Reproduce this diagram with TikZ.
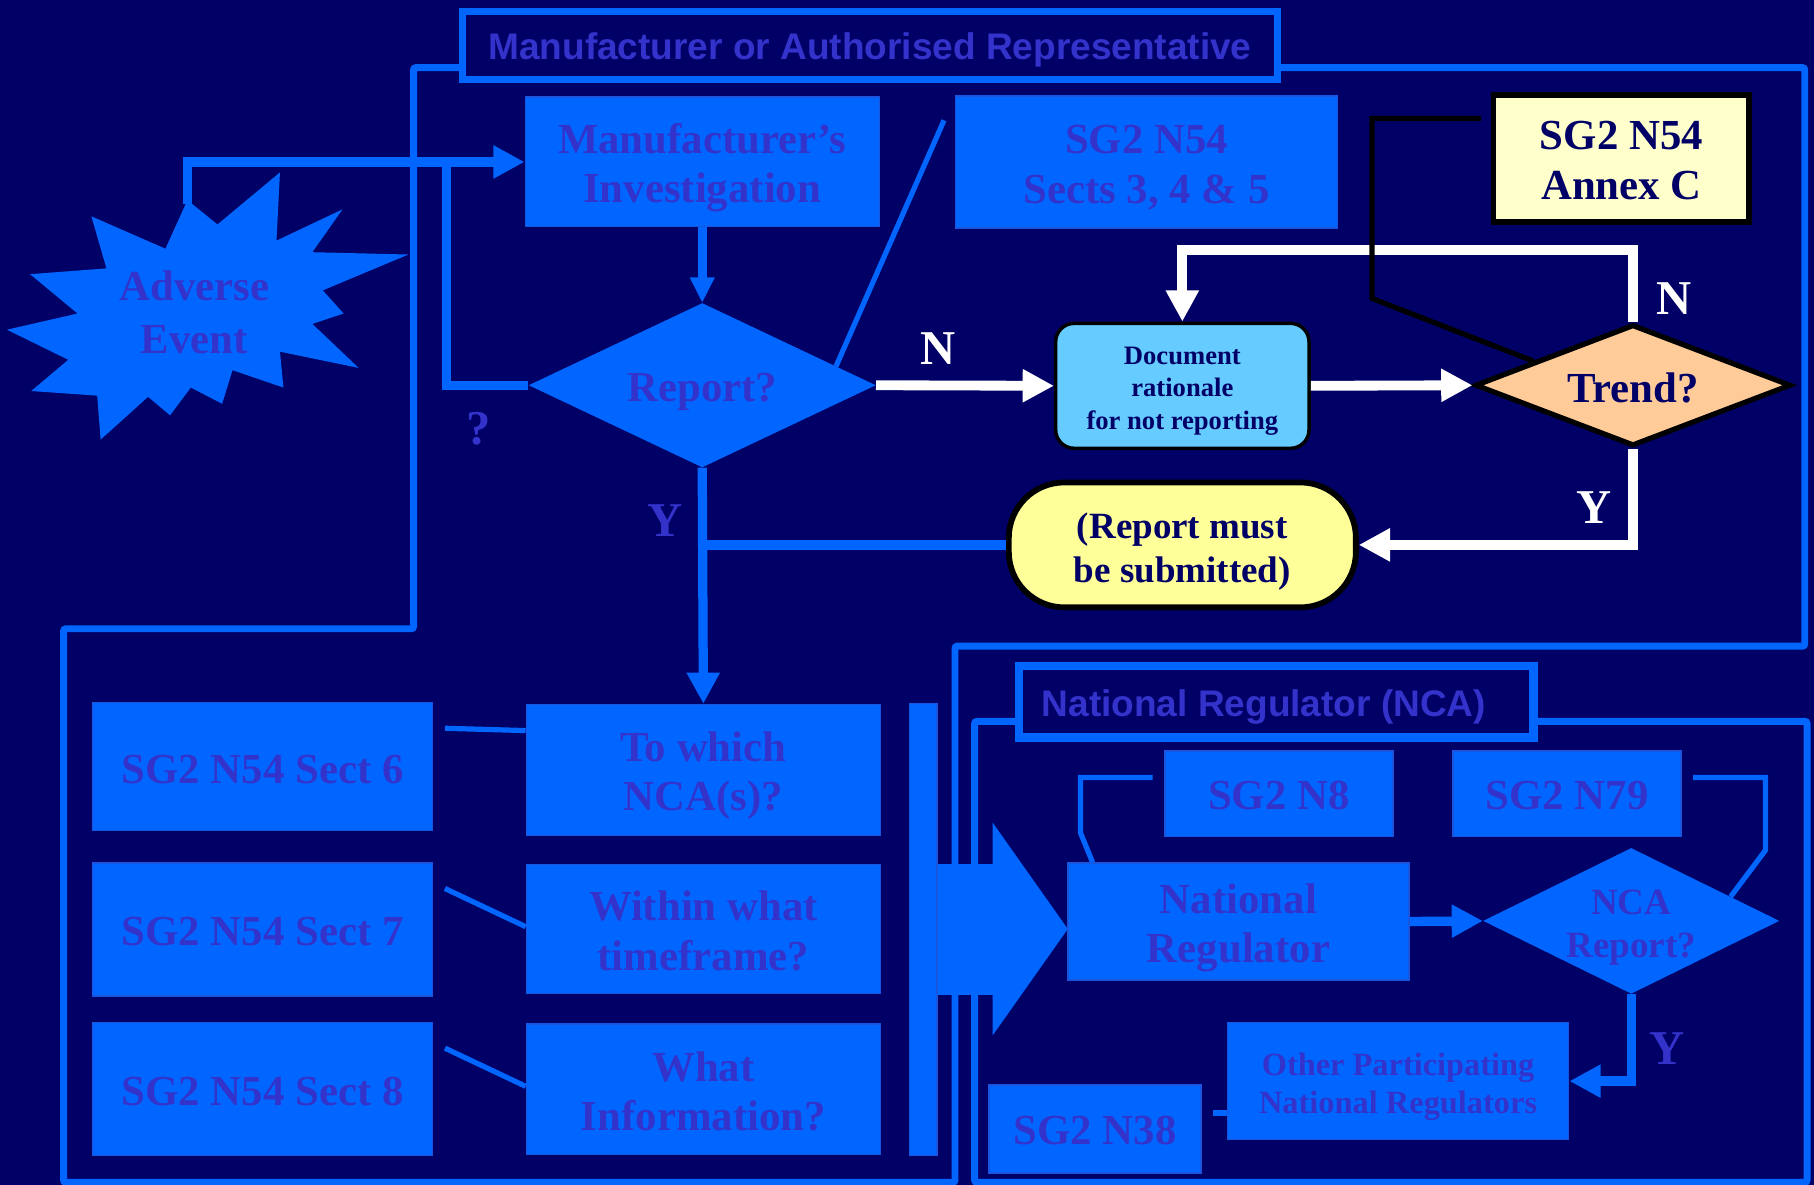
\documentclass[tikz,border=0pt]{standalone}
\usepackage{fontspec}
\setmainfont{Liberation Serif}
\newfontfamily\arialfont{Liberation Sans}
\usetikzlibrary{shapes.geometric,arrows.meta,calc}
\definecolor{bg}{HTML}{000066}
\definecolor{boxblue}{HTML}{0066FF}
\definecolor{boxedge}{HTML}{1A55E0}
\definecolor{txtblue}{HTML}{3333CC}
\definecolor{navy}{HTML}{000066}
\definecolor{docblue}{HTML}{66CCFF}
\definecolor{peach}{HTML}{FFCC99}
\definecolor{lyellow}{HTML}{FFFF99}
\definecolor{pyellow}{HTML}{FFFFCC}
\begin{document}
\begin{tikzpicture}[x=1pt,y=-1pt,
  bluebox/.style={rectangle, fill=boxblue, draw=boxedge, line width=1.2pt, inner sep=0pt},
  bluedia/.style={diamond, fill=boxblue, inner sep=0pt},
  btext/.style={text=txtblue, align=center, inner sep=0pt,
    font=\bfseries\fontsize{37}{43}\selectfont},
  ntext/.style={text=navy, align=center, inner sep=0pt,
    font=\bfseries\fontsize{37}{43}\selectfont},
  titlebox/.style={rectangle, fill=bg, draw=boxblue, inner sep=0pt},
  ttext/.style={text=txtblue, inner sep=0pt, font=\arialfont\bfseries\fontsize{32}{38}\selectfont},
  annexbox/.style={rectangle, fill=pyellow, draw=black, line width=5pt, inner sep=0pt},
  docbox/.style={rectangle, rounded corners=16pt, fill=docblue, draw=black, line width=3pt,
    inner sep=0pt},
  mustbox/.style={rectangle, rounded corners=48pt, fill=lyellow, draw=black, line width=5pt,
    inner sep=0pt},
  trenddia/.style={diamond, fill=peach, draw=black, line width=4.5pt, inner sep=0pt},
  frame/.style={draw=boxblue, line width=6pt, rounded corners=2pt},
  blueline/.style={draw=boxblue, line width=8pt},
  bluearrow/.style={blueline, -{Triangle[length=27pt,width=27pt]}},
  whiteline/.style={draw=white, line width=8.5pt},
  whitearrow/.style={whiteline, -{Triangle[length=27pt,width=27pt]}},
  thinblue/.style={draw=boxblue, line width=4.5pt},
  blackline/.style={draw=black, line width=4.5pt},
  wlabel/.style={text=white, font=\bfseries\fontsize{42}{48}\selectfont, inner sep=0pt},
  blabel/.style={text=txtblue, font=\bfseries\fontsize{42}{48}\selectfont, inner sep=0pt},
]
\useasboundingbox (0,0) rectangle (1568,1024);
\fill[bg] (0,0) rectangle (1568,1024);

% frames
\draw[frame] (400,58.5) -- (357.5,58.5) -- (357.5,543.5) -- (55,543.5) -- (55,1022)
  -- (825.5,1022) -- (825.5,558.5) -- (1560,558.5) -- (1560,58.5) -- (1104,58.5);
\draw[frame] (880.5,623.5) -- (842.5,623.5) -- (842.5,1022) -- (1562,1022)
  -- (1562,623.5) -- (1325.5,623.5);

% title boxes
\node[titlebox, line width=6pt, minimum width=704pt, minimum height=59pt,
  label={[ttext, yshift=-4pt]center:{Manufacturer or Authorised Representative}}] (mtitle) at (752,39.5) {};
\node[titlebox, line width=7pt, minimum width=445pt, minimum height=62pt,
  label={[ttext, yshift=-5pt]center:{\makebox[405pt][l]{National Regulator (NCA)}}}] (ntitle) at (1103,606.5) {};

% adverse event star
\fill[boxblue] (162,173) -- (188,194) -- (242,149) -- (239,208) -- (296,181) -- (270,218)
  -- (353,220) -- (279,251) -- (297,271) -- (270,280) -- (310,318) -- (242,304) -- (245,335)
  -- (201,320) -- (192,349) -- (165,335) -- (147,359) -- (128,343) -- (87,380) -- (84,342)
  -- (27,338) -- (59,311) -- (6,285) -- (67,271) -- (26,237) -- (92,232) -- (79,187)
  -- (143,215) -- cycle;
\node[btext, font=\bfseries\fontsize{37}{45}\selectfont] (ae) at (168,270) {Adverse\\Event};
\coordinate (aetop) at (162,176);

% upper nodes
\node[bluebox, minimum width=306pt, minimum height=112pt,
  label={[btext, yshift=-5pt]center:{Manufacturer’s\\Investigation}}] (inv) at (607,140) {};
\node[bluebox, minimum width=330pt, minimum height=114pt,
  label={[btext, yshift=-5pt]center:{SG2 N54\\Sects 3, 4 \& 5}}] (sects) at (991,140) {};
\node[annexbox, minimum width=221pt, minimum height=110pt,
  label={[ntext, yshift=-1.5pt]center:{SG2 N54\\Annex C}}] (annex) at (1401.5,137) {};
\node[bluedia, minimum width=300pt, minimum height=142pt,
  label={[btext, yshift=-6pt]center:{Report?}}] (report) at (607,333) {};
\node[docbox, minimum width=219pt, minimum height=108pt,
  label={[ntext, yshift=-4.5pt, font=\bfseries\fontsize{23}{28}\selectfont]center:{Document\\rationale\\for not reporting}}] (doc) at (1022,333.5) {};
\node[trenddia, minimum width=273pt, minimum height=105pt,
  label={[ntext, yshift=-2pt]center:{Trend?}}] (trend) at (1411.5,333) {};
\node[mustbox, minimum width=300pt, minimum height=108pt,
  label={[ntext, yshift=-6pt, font=\bfseries\fontsize{32}{38}\selectfont]center:{(Report must\\be submitted)}}] (must) at (1022,471) {};

% lower left nodes
\node[bluebox, minimum width=306pt, minimum height=113pt,
  label={[btext, yshift=-5pt]center:{To which\\NCA(s)?}}] (toNCA) at (608,665.5) {};
\node[bluebox, minimum width=306pt, minimum height=112pt,
  label={[btext, yshift=-2pt]center:{Within what\\timeframe?}}] (within) at (608,803) {};
\node[bluebox, minimum width=306pt, minimum height=113pt,
  label={[btext, yshift=-2pt]center:{What\\Information?}}] (whatinfo) at (608,941.5) {};
\node[bluebox, minimum width=294pt, minimum height=111pt,
  label={[btext, yshift=-3pt]center:{SG2 N54 Sect 6}}] (sect6) at (227,662.5) {};
\node[bluebox, minimum width=294pt, minimum height=115pt,
  label={[btext, yshift=-2pt]center:{SG2 N54 Sect 7}}] (sect7) at (227,803.5) {};
\node[bluebox, minimum width=294pt, minimum height=115pt,
  label={[btext, yshift=-2pt]center:{SG2 N54 Sect 8}}] (sect8) at (227,941.5) {};
\node[bluebox, minimum width=24pt, minimum height=391pt] (bar) at (798,803.5) {};

% big arrow
\fill[boxblue] (bar.east |- 0,747) -- (858,747) -- (858,711) -- (923,803) -- (858,895)
  -- (858,860) -- (bar.east |- 0,860) -- cycle;

% NCA region nodes
\node[bluebox, minimum width=295pt, minimum height=101pt,
  label={[btext, yshift=-5.5pt]center:{National\\Regulator}}] (natreg) at (1070.5,796.5) {};
\node[bluedia, minimum width=256pt, minimum height=126pt,
  label={[btext, yshift=-6pt, font=\bfseries\fontsize{32}{37}\selectfont]center:{NCA\\Report?}}] (ncarep) at (1410,796) {};
\node[bluebox, minimum width=197pt, minimum height=74pt,
  label={[btext, yshift=-2pt]center:{SG2 N8}}] (n8) at (1105.5,686) {};
\node[bluebox, minimum width=197pt, minimum height=74pt,
  label={[btext, yshift=-2pt]center:{SG2 N79}}] (n79) at (1354.5,686) {};
\node[bluebox, minimum width=295pt, minimum height=101pt,
  label={[btext, yshift=-5pt, font=\bfseries\fontsize{28}{33}\selectfont]center:{Other Participating\\National Regulators}}] (other) at (1208.5,934.5) {};
\node[bluebox, minimum width=183pt, minimum height=76pt,
  label={[btext, yshift=-1pt]center:{SG2 N38}}] (n38) at (946.5,976) {};

% connectors: blue
\coordinate (merge) at (430,140);
\draw[bluearrow] (aetop) |- (inv.west);
\draw[blueline] (report.west) -| (386,140) -- (merge);
\draw[blueline, -{Triangle[length=22pt,width=20pt]}] (inv.south) -- (report.north);
\draw[bluearrow] (report.south) -- (toNCA.north);
\draw[blueline] (must.west) -- (report.south |- must.west);
\coordinate (sectsend) at (816,104);
\draw[thinblue] ($(report.north)!0.77!(report.east)$) -- (sectsend);

\draw[thinblue] ($(sect6.east)+(10,-33)$) -- ($(toNCA.west)+(0,-34)$);
\draw[thinblue] ($(sect7.east)+(10,-35.5)$) -- ($(within.west)+(0,-2)$);
\draw[thinblue] ($(sect8.east)+(10,-35.5)$) -- ($(whatinfo.west)+(0,-2.5)$);

\draw[thinblue] ($(n8.west)+(-10,-14)$) -- (934,672) -- (934,720) -- ($(natreg.north west)+(22,0)$);
\draw[thinblue] ($(n79.east)+(10,-14)$) -- (1526,672) -- (1526,735)
  -- ($(ncarep.north)!0.67!(ncarep.east)$);
\draw[bluearrow] (natreg.east) -- (ncarep.west);
\draw[bluearrow] (ncarep.south) |- (other.east);
\draw[draw=boxblue, line width=5pt] ($(n38.east)+(10,-14)$) -- (other.west |- 0,962);

% connectors: white
\draw[whitearrow] (report.east) -- (doc.west);
\draw[whitearrow] (doc.east) -- (trend.west);
\draw[whitearrow] (trend.north) -- ++(0,-62) -| (doc.north);
\draw[whitearrow] (trend.south) |- (must.east);

% black link to annex
\coordinate (annexlink) at (1280,102.5);
\draw[blackline] (annexlink) -- (1186,102.5) -- (1186,258) -- ($(trend.west)!0.38!(trend.north)$);

% labels
\node[wlabel] (lN1) at (811,301) {N};
\node[wlabel] (lN2) at (1447,258) {N};
\node[wlabel] (lY1) at (1378,439) {Y};
\node[blabel] (lY2) at (575,450) {Y};
\node[blabel] (lQ) at (414,371) {?};
\node[blabel] (lY3) at (1441,906) {Y};
\end{tikzpicture}
\end{document}
